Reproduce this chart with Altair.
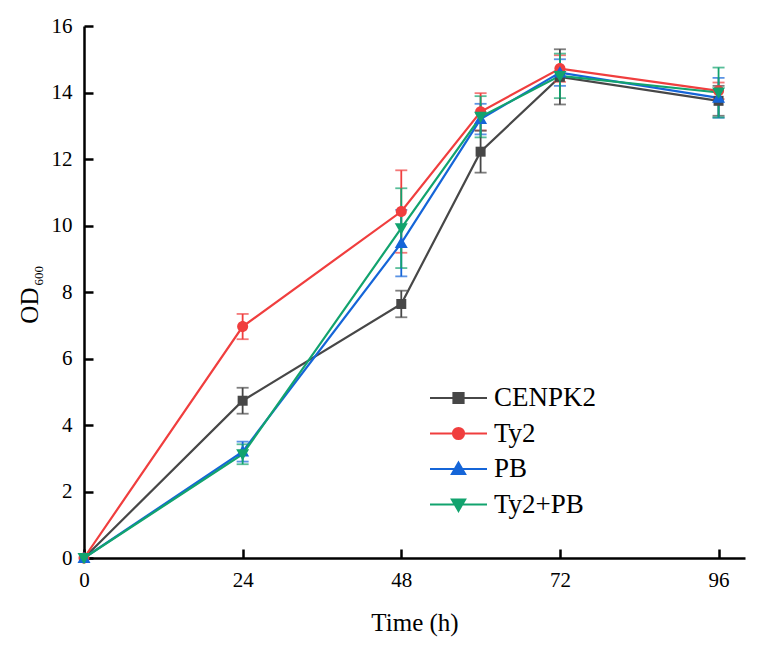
import altair as alt
import pandas as pd

# ---- data ----
times = [0, 24, 48, 60, 72, 96]
series_names = ["CENPK2", "Ty2", "PB", "Ty2+PB"]
cenpk2 = [0, 4.73, 7.64, 12.22, 14.47, 13.75]
cenpk2_err = [0, 0.39, 0.40, 0.63, 0.83, 0.45]
ty2 = [0, 6.96, 10.42, 13.42, 14.72, 14.05]
ty2_err = [0, 0.38, 1.24, 0.56, 0.40, 0.25]
pb = [0, 3.20, 9.47, 13.20, 14.60, 13.84]
pb_err = [0, 0.30, 1.00, 0.46, 0.40, 0.60]
ty2pb = [0, 3.12, 9.92, 13.27, 14.50, 14.00]
ty2pb_err = [0, 0.30, 1.20, 0.62, 0.67, 0.75]

x_ticks = [0, 24, 48, 72, 96]
y_ticks = [0, 2, 4, 6, 8, 10, 12, 14, 16]

colors = ["#474747", "#F03E3E", "#1565D8", "#12A36E"]
shape_paths = [
    "M-1,-1H1V1H-1Z",
    "M1.1,0A1.1,1.1,0,1,1,-1.1,0A1.1,1.1,0,1,1,1.1,0Z",
    "M0,-1.25L1.3,1H-1.3Z",
    "M0,1.25L1.3,-1H-1.3Z",
]

values = [cenpk2, ty2, pb, ty2pb]
errors = [cenpk2_err, ty2_err, pb_err, ty2pb_err]
rows = []
for name, vals, errs in zip(series_names, values, errors):
    for t, v, e in zip(times, vals, errs):
        rows.append({"series": name, "time": t, "od": v, "err": e})
df = pd.DataFrame(rows)

FONT = "Liberation Serif"

x_axis = alt.Axis(values=x_ticks, title="Time (h)", grid=False,
                  domainColor="black", domainWidth=2.5, tickColor="black",
                  tickWidth=2.5, tickSize={"expr": "-9"}, labelPadding=20,
                  labelFont=FONT, labelFontSize=21, labelColor="black",
                  labelFlush=False, titleFont=FONT, titleFontSize=25,
                  titleFontWeight="normal", titleColor="black",
                  titleBaseline="alphabetic", titleY=72)
y_axis = alt.Axis(values=y_ticks, title=None, grid=False,
                  domainColor="black", domainWidth=2.5, tickColor="black",
                  tickWidth=2.5, tickSize={"expr": "-9"}, labelPadding=21,
                  labelFont=FONT, labelFontSize=21, labelColor="black")

x_enc = alt.X("time:Q", scale=alt.Scale(domain=[0, 100], nice=False), axis=x_axis)
y_enc = alt.Y("od:Q", scale=alt.Scale(domain=[0, 16], nice=False), axis=y_axis)
color_scale = alt.Scale(domain=series_names, range=colors)

base = alt.Chart(df)

lines = base.mark_line(strokeWidth=2.2).encode(
    x=x_enc, y=y_enc,
    color=alt.Color("series:N", scale=color_scale, legend=None),
    order=alt.Order("time:Q"),
)

errbars = base.transform_filter("datum.err > 0").transform_calculate(
    lo="datum.od - datum.err", hi="datum.od + datum.err"
).mark_errorbar(ticks={"size": 12}, thickness=1.8).encode(
    x=x_enc,
    y=alt.Y("lo:Q", scale=alt.Scale(domain=[0, 16], nice=False), axis=y_axis),
    y2="hi:Q",
    color=alt.Color("series:N", scale=color_scale, legend=None),
)

legend = alt.Legend(
    title=None, orient="none", legendX=361, legendY=358.5,
    labelFont=FONT, labelFontSize=27, labelColor="black",
    symbolSize=100, symbolStrokeWidth=2.2, labelOffset=22,
    rowPadding=7.5, padding=0, symbolOpacity=1,
    symbolType={"expr": "'M-5.7,0H5.7' + scale('shape', datum.value)"},
    symbolStrokeColor={"expr": "scale('color', datum.value)"},
)

points = base.mark_point(filled=True, opacity=1, size=100).encode(
    x=x_enc, y=y_enc,
    color=alt.Color("series:N", scale=color_scale, legend=legend),
    shape=alt.Shape("series:N", scale=alt.Scale(domain=series_names, range=shape_paths), legend=None),
)

od_title = alt.Chart(pd.DataFrame({"t": ["OD"]})).mark_text(
    font=FONT, fontSize=25, angle=270, align="center", baseline="alphabetic", color="black"
).encode(text="t:N", x=alt.value(-45.7), y=alt.value(279.6))

sub_title = alt.Chart(pd.DataFrame({"t": ["600"]})).mark_text(
    font=FONT, fontSize=13, angle=270, align="center", baseline="alphabetic", color="black"
).encode(text="t:N", x=alt.value(-41.3), y=alt.value(249.8))

chart = alt.layer(lines, errbars, points, od_title, sub_title).resolve_legend(
    color="independent"
).properties(
    width=661, height=532,
    padding={"left": 76, "top": 18, "right": 8, "bottom": 90},
    autosize=alt.AutoSizeParams(type="none"),
    background="white",
).configure_view(stroke=None)

chart.save("out.html", embed_options={"renderer": "svg", "actions": False})
